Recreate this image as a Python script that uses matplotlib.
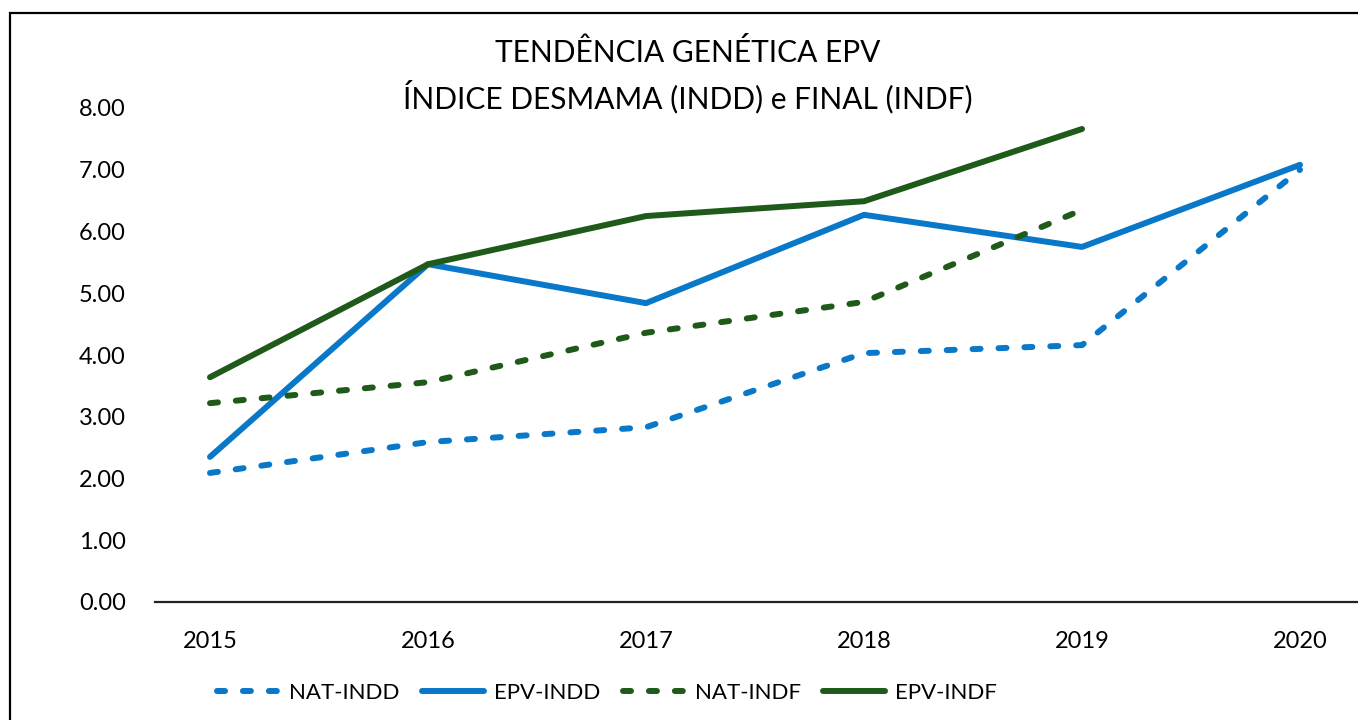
import matplotlib
matplotlib.use("Agg")
import matplotlib.pyplot as plt
from matplotlib.patches import Rectangle

years = ["2015", "2016", "2017", "2018", "2019", "2020"]
nat_indd = [2.09, 2.59, 2.83, 4.03, 4.16, 7.00]
epv_indd = [2.35, 5.47, 4.84, 6.27, 5.75, 7.08]
nat_indf = [3.22, 3.56, 4.36, 4.86, 6.35]
epv_indf = [3.64, 5.47, 6.25, 6.49, 7.66]
yticks = [0, 1, 2, 3, 4, 5, 6, 7, 8]

BLUE = "#0A78C8"
GREEN = "#1F5A1A"

plt.rcParams['font.family'] = ['Lato', 'DejaVu Sans']

W, H = 1358, 720
fig = plt.figure(figsize=(W / 100, H / 100), dpi=100)
ax = fig.add_axes([155 / W, 1 - 602 / H, 1 - 155 / W, (602 - 108) / H])

x6 = list(range(len(years)))
x5 = list(range(len(nat_indf)))
lw = 4.3
dash = (1.34, 3.0)

l1, = ax.plot(x6, nat_indd, color=BLUE, lw=lw, dashes=dash, dash_capstyle='round',
              solid_capstyle='round', label="NAT-INDD")
l2, = ax.plot(x6, epv_indd, color=BLUE, lw=lw, solid_capstyle='round', label="EPV-INDD")
l3, = ax.plot(x5, nat_indf, color=GREEN, lw=lw, dashes=dash, dash_capstyle='round',
              label="NAT-INDF")
l4, = ax.plot(x5, epv_indf, color=GREEN, lw=lw, solid_capstyle='round', label="EPV-INDF")

x0, step = 210.0, 218.0
ax.set_xlim(-(x0 - 155) / step, (W - x0) / step)
ax.set_ylim(0, 8)
ax.set_yticks(yticks)
ax.set_yticklabels([f"{v:.2f}" for v in yticks], fontsize=17)
ax.set_xticks(x6)
ax.set_xticklabels(years, fontsize=17)
ax.tick_params(axis='y', length=0, pad=21)
ax.tick_params(axis='x', length=0, pad=21)
for s in ['top', 'right', 'left']:
    ax.spines[s].set_visible(False)
ax.spines['bottom'].set_linewidth(1.6)
ax.spines['bottom'].set_color("#222222")
ax.set_facecolor('none')

fig.text(688 / W, 1 - 53 / H, "TENDÊNCIA GENÉTICA EPV", ha='center', va='center', fontsize=21.5)
fig.text(688 / W, 1 - 97 / H, "ÍNDICE DESMAMA (INDD) e FINAL (INDF)", ha='center', va='center', fontsize=21.5)

leg = fig.legend(handles=[l1, l2, l3, l4], loc='center', ncol=4,
                 bbox_to_anchor=(607 / W, 1 - 693 / H), frameon=False, fontsize=16,
                 handlelength=2.8, columnspacing=1.0, handletextpad=0.45)

fig.patches.append(Rectangle((10 / W, -0.1), 1.2, 1 - 13 / H + 0.1, transform=fig.transFigure,
                             fill=False, edgecolor='black', lw=1.6))

fig.savefig("out.png", dpi=100)
